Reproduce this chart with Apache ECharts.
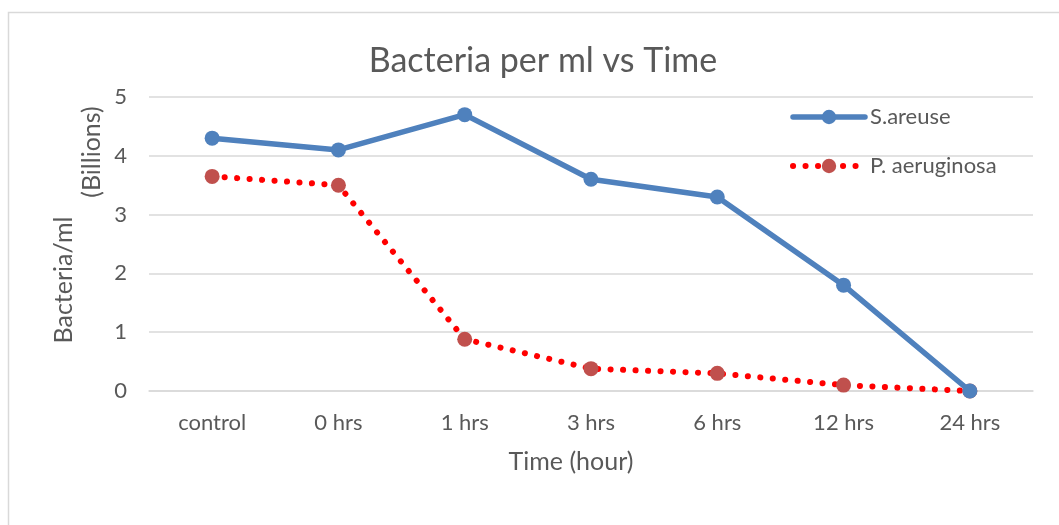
<!DOCTYPE html>
<html>
<head>
<meta charset="utf-8">
<title>Bacteria per ml vs Time</title>
<script src="https://cdn.jsdelivr.net/npm/echarts@6/dist/echarts.min.js"></script>
<style>
  html, body { margin: 0; padding: 0; background: #ffffff; }
  #chart { width: 1059px; height: 525px; }
</style>
</head>
<body>
<div id="chart"></div>
<script>
// Sampling times
const categories = ['control', '0 hrs', '1 hrs', '3 hrs', '6 hrs', '12 hrs', '24 hrs'];

// Bacteria per ml, in billions
const sAreuse = [4.3, 4.1, 4.7, 3.6, 3.3, 1.8, 0];
const pAeruginosa = [3.65, 3.5, 0.88, 0.38, 0.3, 0.1, 0];

// Value axis ticks
const yTicks = [0, 1, 2, 3, 4, 5];

const FONT = 'Lato, "Open Sans", sans-serif';
const TEXT = '#595959';
const GRID = '#d9d9d9';
const BLUE = '#4F81BD';
const RED_MARK = '#C0504D';
const RED_LINE = '#FF0000';

const blueLine = { color: BLUE, width: 5.5, cap: 'round', join: 'round' };
const redLine = { color: RED_LINE, width: 6, type: [0.1, 12.4], cap: 'round' };

const chart = echarts.init(document.getElementById('chart'), null, { renderer: 'canvas' });

chart.setOption({
  animation: false,
  backgroundColor: '#ffffff',
  textStyle: { fontFamily: FONT, color: TEXT },
  title: {
    text: 'Bacteria per ml vs Time',
    left: 538,
    top: 39,
    textAlign: 'center',
    textStyle: { fontFamily: FONT, fontSize: 34, fontWeight: 'normal', color: TEXT }
  },
  legend: {
    orient: 'vertical',
    left: 790,
    top: 106,
    padding: 0,
    itemWidth: 72,
    itemHeight: 18,
    itemGap: 27,
    textStyle: { fontFamily: FONT, fontSize: 22, color: TEXT },
    data: [
      { name: 'S.areuse', lineStyle: blueLine, itemStyle: { color: BLUE } },
      { name: 'P. aeruginosa', lineStyle: redLine, itemStyle: { color: RED_MARK } }
    ]
  },
  grid: { left: 149, right: 26, top: 97, bottom: 134 },
  xAxis: {
    type: 'category',
    data: categories,
    boundaryGap: true,
    axisLine: { show: true, lineStyle: { color: GRID, width: 1.5 } },
    axisTick: { show: false },
    axisLabel: { margin: 21, fontFamily: FONT, fontSize: 22, color: TEXT }
  },
  yAxis: {
    type: 'value',
    min: yTicks[0],
    max: yTicks[yTicks.length - 1],
    interval: 1,
    axisLine: { show: false },
    axisTick: { show: false },
    splitLine: { lineStyle: { color: GRID, width: 1.5 } },
    axisLabel: { margin: 22, fontFamily: FONT, fontSize: 22, color: TEXT }
  },
  series: [
    {
      name: 'S.areuse',
      type: 'line',
      data: sAreuse,
      symbol: 'circle',
      symbolSize: 15,
      itemStyle: { color: BLUE },
      lineStyle: blueLine,
      z: 3
    },
    {
      name: 'P. aeruginosa',
      type: 'line',
      data: pAeruginosa,
      symbol: 'circle',
      symbolSize: 15,
      itemStyle: { color: RED_MARK },
      lineStyle: redLine,
      z: 2
    }
  ],
  graphic: [
    {
      type: 'rect',
      silent: true,
      shape: { x: 8.5, y: 12.5, width: 1080, height: 540 },
      style: { fill: null, stroke: GRID, lineWidth: 1.5 },
      z: -10
    },
    {
      type: 'text',
      x: 64, y: 280, rotation: Math.PI / 2,
      style: { text: 'Bacteria/ml', fontFamily: FONT, fontSize: 25, fill: TEXT, align: 'center', verticalAlign: 'middle' }
    },
    {
      type: 'text',
      x: 92, y: 152, rotation: Math.PI / 2,
      style: { text: '(Billions)', fontFamily: FONT, fontSize: 25, fill: TEXT, align: 'center', verticalAlign: 'middle' }
    },
    {
      type: 'text',
      x: 571, y: 462,
      style: { text: 'Time (hour)', fontFamily: FONT, fontSize: 25, fill: TEXT, align: 'center', verticalAlign: 'middle' }
    }
  ]
});
</script>
</body>
</html>
